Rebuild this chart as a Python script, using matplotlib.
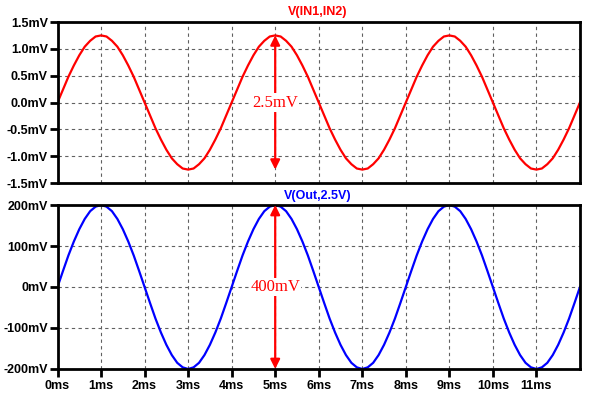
import numpy as np
import matplotlib
matplotlib.use("Agg")
import matplotlib.pyplot as plt

# samples every 0.125 ms
time_ms = np.linspace(0, 12, 97)

v_in = [0.00, 0.24, 0.48, 0.69, 0.88, 1.04, 1.15, 1.23, 1.25, 1.23, 1.15, 1.04, 0.88, 0.69, 0.48, 0.24,
        0.00, -0.24, -0.48, -0.69, -0.88, -1.04, -1.15, -1.23, -1.25, -1.23, -1.15, -1.04, -0.88, -0.69, -0.48, -0.24,
        0.00, 0.24, 0.48, 0.69, 0.88, 1.04, 1.15, 1.23, 1.25, 1.23, 1.15, 1.04, 0.88, 0.69, 0.48, 0.24,
        0.00, -0.24, -0.48, -0.69, -0.88, -1.04, -1.15, -1.23, -1.25, -1.23, -1.15, -1.04, -0.88, -0.69, -0.48, -0.24,
        0.00, 0.24, 0.48, 0.69, 0.88, 1.04, 1.15, 1.23, 1.25, 1.23, 1.15, 1.04, 0.88, 0.69, 0.48, 0.24,
        0.00, -0.24, -0.48, -0.69, -0.88, -1.04, -1.15, -1.23, -1.25, -1.23, -1.15, -1.04, -0.88, -0.69, -0.48, -0.24,
        0.00]

v_out = [0, 39, 77, 111, 141, 166, 185, 196, 200, 196, 185, 166, 141, 111, 77, 39,
         0, -39, -77, -111, -141, -166, -185, -196, -200, -196, -185, -166, -141, -111, -77, -39,
         0, 39, 77, 111, 141, 166, 185, 196, 200, 196, 185, 166, 141, 111, 77, 39,
         0, -39, -77, -111, -141, -166, -185, -196, -200, -196, -185, -166, -141, -111, -77, -39,
         0, 39, 77, 111, 141, 166, 185, 196, 200, 196, 185, 166, 141, 111, 77, 39,
         0, -39, -77, -111, -141, -166, -185, -196, -200, -196, -185, -166, -141, -111, -77, -39,
         0]

x_ticks = list(range(12))
x_labels = [f"{t}ms" for t in x_ticks]
in_ticks = [-1.5, -1.0, -0.5, 0.0, 0.5, 1.0, 1.5]
in_labels = [f"{v:.1f}mV" for v in in_ticks]
out_ticks = [-200, -100, 0, 100, 200]
out_labels = [f"{v}mV" for v in out_ticks]

plt.rcParams['font.family'] = ['Liberation Sans', 'DejaVu Sans']

fig = plt.figure(figsize=(5.93, 3.98), dpi=100)
ax1 = fig.add_axes([0.097, 0.5402, 0.881, 0.4045])
ax2 = fig.add_axes([0.097, 0.0729, 0.881, 0.412])


def style(ax, yticks, ylabels, show_x):
    ax.set_xlim(0, 12)
    ax.set_xticks(x_ticks)
    ax.set_yticks(yticks)
    ax.set_yticklabels(ylabels, fontsize=9, fontweight='bold')
    if show_x:
        ax.set_xticklabels(x_labels, fontsize=9, fontweight='bold')
        ax.tick_params(axis='x', length=6, width=2, direction='out', pad=2)
    else:
        ax.tick_params(axis='x', length=0, labelbottom=False)
    ax.tick_params(axis='y', length=6, width=2, direction='out', pad=1)
    ax.grid(True, color='#606060', linestyle=(0, (3, 3)), linewidth=0.8)
    for s in ax.spines.values():
        s.set_linewidth(2)


ax1.plot(time_ms, v_in, color='#ff0000', lw=1.6)
ax1.set_ylim(-1.5, 1.5)
style(ax1, in_ticks, in_labels, False)

ax2.plot(time_ms, v_out, color='#0000ff', lw=1.6)
ax2.set_ylim(-200, 200)
style(ax2, out_ticks, out_labels, True)

# peak-to-peak markers
arrow = dict(arrowstyle='<|-|>', color='#ff0000', lw=1.6, mutation_scale=14, shrinkA=0, shrinkB=0)
ax1.annotate('', xy=(5, 1.25), xytext=(5, -1.25), arrowprops=arrow)
ax1.text(5, 0, '2.5mV', color='#ff0000', fontsize=12, family='Liberation Serif',
         ha='center', va='center', bbox=dict(facecolor='white', edgecolor='none', pad=1))
ax2.annotate('', xy=(5, 200), xytext=(5, -200), arrowprops=arrow)
ax2.text(5, 0, '400mV', color='#ff0000', fontsize=12, family='Liberation Serif',
         ha='center', va='center', bbox=dict(facecolor='white', edgecolor='none', pad=1))

fig.text(318 / 593, 0.970, 'V(IN1,IN2)', color='#ff0000', fontsize=9, fontweight='bold', ha='center', va='center')
fig.text(318 / 593, 0.508, 'V(Out,2.5V)', color='#0000ff', fontsize=9, fontweight='bold', ha='center', va='center')

fig.savefig('out.png', dpi=100)
